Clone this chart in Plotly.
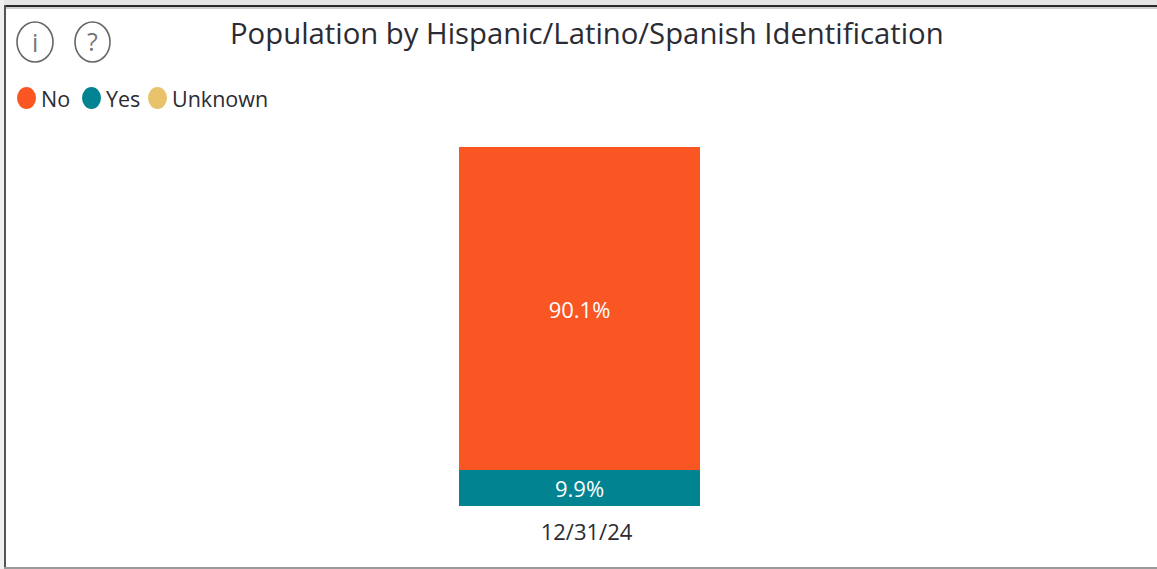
import plotly.graph_objects as go

W, H = 1157, 569

categories = ["12/31/24"]
series_names = ["No", "Yes", "Unknown"]
no_values = [90.1]
yes_values = [9.9]
unknown_values = [0.0]
title_text = "Population by Hispanic/Latino/Spanish Identification"

ORANGE, TEAL, GOLD = "#F95623", "#028391", "#E8C36C"
INK = "#2b2b33"
FONT = "Open Sans"


def px(x):
    return x / W


def py(y):
    return 1 - y / H


fig = go.Figure()
for name, vals, color in [
    (series_names[1], yes_values, TEAL),
    (series_names[0], no_values, ORANGE),
    (series_names[2], unknown_values, GOLD),
]:
    fig.add_bar(
        x=categories, y=vals, name=name, width=0.2154,
        marker=dict(color=color, line=dict(width=0)),
        text=[f"{v:.1f}%" if v > 0 else "" for v in vals],
        textposition="inside", insidetextanchor="middle", textangle=0,
        textfont=dict(family=FONT, size=22, color="white"),
        constraintext="none", showlegend=False,
    )

shapes = []


def rect(x0, y0, x1, y1, color):
    shapes.append(dict(type="rect", xref="paper", yref="paper", layer="below",
                       x0=px(x0), x1=px(x1), y0=py(y0), y1=py(y1),
                       fillcolor=color, line=dict(width=0)))


def oval(x0, y0, x1, y1, fill=None, stroke=None):
    shapes.append(dict(type="circle", xref="paper", yref="paper",
                       x0=px(x0), x1=px(x1), y0=py(y0), y1=py(y1),
                       fillcolor=fill or "rgba(0,0,0,0)",
                       line=dict(width=1.6 if stroke else 0, color=stroke or "rgba(0,0,0,0)")))


# Frame
rect(0, 0, W, 5, "#E6E6E6")
rect(0, 5, W, 7, "#2a2a2a")
rect(0, 7, W, 9, "#CFCFCF")
rect(0, 0, 4, H, "#F0F0F0")
rect(4, 5, 6, H, "#555555")
rect(4, 567, W, H, "#9A9A9A")

# Info icons
oval(17, 22, 53, 62, stroke="#666666")
oval(75, 22, 110, 62, stroke="#666666")

annotations = []


def label(x, y, text, size, color=INK, anchor="left"):
    annotations.append(dict(xref="paper", yref="paper", x=px(x), y=py(y), text=text,
                            showarrow=False, xanchor=anchor, yanchor="middle",
                            font=dict(family=FONT, size=size, color=color)))


label(35, 42, "i", 25, "#777777", "center")
label(92.5, 41, "?", 25, "#777777", "center")
label(587, 33, title_text, 29.3, INK, "center")

# Legend
for (x0, x1, tx), name, color in zip(
    [(17, 36, 40), (82, 101, 105), (148, 167, 171)], series_names, [ORANGE, TEAL, GOLD]
):
    oval(x0, 87, x1, 109, fill=color)
    label(tx - 1, 99, name, 21.5)

fig.update_layout(
    width=W, height=H, barmode="stack", autosize=False,
    margin=dict(l=0, r=0, t=0, b=0, pad=0),
    paper_bgcolor="white", plot_bgcolor="white",
    shapes=shapes, annotations=annotations,
    xaxis=dict(domain=[px(20), px(1139)], type="category", showgrid=False, zeroline=False,
               showline=False, ticks="outside", ticklen=7, tickcolor="rgba(0,0,0,0)",
               ticklabelshift=7,
               tickfont=dict(family=FONT, size=22, color=INK)),
    yaxis=dict(domain=[py(506), py(147)], range=[0, 100], visible=False),
)

fig.write_html("out.html", config={"displayModeBar": False},
               post_script="document.body.style.margin='0';document.body.style.overflow='hidden';")
